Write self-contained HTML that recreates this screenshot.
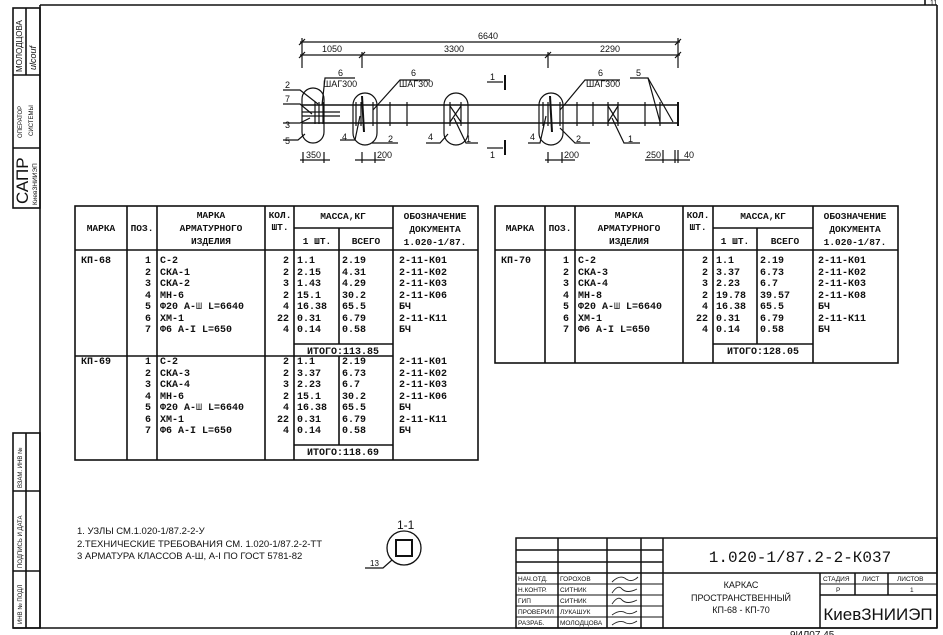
<!DOCTYPE html>
<html><head><meta charset="utf-8"><style>
html,body{margin:0;padding:0;background:#fff;}
svg{display:block;}
text{font-family:"Liberation Mono",monospace;fill:#111;}
.t text{font-weight:bold;}
.t tspan.n{font-weight:normal;}
.s{font-family:"Liberation Sans",sans-serif;}
</style></head><body>
<svg width="943" height="635" viewBox="0 0 943 635" xmlns="http://www.w3.org/2000/svg">
<g stroke="#111" fill="none" stroke-width="1.6">
<line x1="40" y1="5" x2="937" y2="5"/>
<line x1="40" y1="5" x2="40" y2="628"/>
<line x1="937" y1="5" x2="937" y2="628"/>
<line x1="13" y1="628" x2="937" y2="628"/>
<line x1="925" y1="0" x2="925" y2="5"/>
<rect x="13" y="8" width="27" height="200"/>
<line x1="13" y1="75" x2="40" y2="75"/>
<line x1="13" y1="148" x2="40" y2="148"/>
<line x1="26" y1="8" x2="26" y2="75"/>
<rect x="13" y="433" width="27" height="195"/>
<line x1="13" y1="491" x2="40" y2="491"/>
<line x1="13" y1="571" x2="40" y2="571"/>
<line x1="26" y1="433" x2="26" y2="628"/>
</g>
<g class="s" font-size="7">
<text class="s" transform="translate(22,72) rotate(-90)" font-size="8">МОЛОДЦОВА</text>
<text class="s" transform="translate(36,70) rotate(-90)" font-size="9" font-style="italic">ulcouf</text>
<text class="s" transform="translate(22,138) rotate(-90)" font-size="6">ОПЕРАТОР</text>
<text class="s" transform="translate(33,136) rotate(-90)" font-size="6">СИСТЕМЫ</text>
<text class="s" transform="translate(28,204) rotate(-90)" font-size="17">САПР</text>
<text class="s" transform="translate(37,205) rotate(-90)" font-size="6.5">КиевЗНИИЭП</text>
<text class="s" transform="translate(22,488) rotate(-90)" font-size="6">ВЗАМ. ИНВ №</text>
<text class="s" transform="translate(22,568) rotate(-90)" font-size="6">ПОДПИСЬ И ДАТА</text>
<text class="s" transform="translate(22,624) rotate(-90)" font-size="6">ИНВ № ПОДЛ</text>
</g>

<g stroke="#111" fill="none" stroke-width="1.2">
<line x1="300" y1="42" x2="680" y2="42"/>
<line x1="300" y1="55" x2="680" y2="55"/>
<line x1="302" y1="38" x2="302" y2="68"/>
<line x1="678" y1="38" x2="678" y2="68"/>
<line x1="362" y1="52" x2="362" y2="68"/>
<line x1="548" y1="52" x2="548" y2="68"/>
<line x1="299" y1="45" x2="305" y2="39"/><line x1="675" y1="45" x2="681" y2="39"/>
<line x1="299" y1="58" x2="305" y2="52"/><line x1="359" y1="58" x2="365" y2="52"/>
<line x1="545" y1="58" x2="551" y2="52"/><line x1="675" y1="58" x2="681" y2="52"/>
<line x1="302" y1="105" x2="678" y2="105" stroke-width="1.6"/>
<line x1="302" y1="123" x2="678" y2="123" stroke-width="1.6"/>
<line x1="678" y1="102" x2="678" y2="126" stroke-width="2"/>
<line x1="302" y1="112" x2="340" y2="112"/>
<line x1="302" y1="116" x2="340" y2="116"/>
<line x1="315" y1="102" x2="315" y2="124"/><line x1="319" y1="102" x2="319" y2="124"/><line x1="323" y1="102" x2="323" y2="124"/>
<line x1="356" y1="102" x2="356" y2="126"/><line x1="361" y1="102" x2="361" y2="126"/><line x1="373" y1="102" x2="373" y2="126"/>
<line x1="390" y1="102" x2="390" y2="126"/><line x1="407" y1="102" x2="407" y2="126"/>
<line x1="450" y1="102" x2="450" y2="126"/><line x1="461" y1="102" x2="461" y2="126"/>
<line x1="450" y1="106" x2="461" y2="122"/><line x1="461" y1="106" x2="450" y2="122"/>
<line x1="543" y1="102" x2="543" y2="126"/><line x1="548" y1="102" x2="548" y2="126"/><line x1="560" y1="102" x2="560" y2="126"/>
<line x1="577" y1="102" x2="577" y2="126"/><line x1="593" y1="102" x2="593" y2="126"/>
<line x1="608" y1="102" x2="608" y2="126"/><line x1="618" y1="102" x2="618" y2="126"/>
<line x1="608" y1="106" x2="618" y2="122"/><line x1="618" y1="106" x2="608" y2="122"/>
<line x1="645" y1="102" x2="645" y2="126"/><line x1="660" y1="102" x2="660" y2="126"/>
<line x1="362" y1="96" x2="364" y2="132" stroke-width="2"/><line x1="550" y1="96" x2="552" y2="132" stroke-width="2"/>
<rect x="302" y="88" width="22" height="55" rx="11"/>
<rect x="353" y="93" width="24" height="52" rx="12"/>
<rect x="444" y="93" width="24" height="52" rx="12"/>
<rect x="539" y="93" width="24" height="52" rx="12"/>
<polyline points="322,105 325,78 355,78"/>
<polyline points="373,110 400,80 430,80"/>
<polyline points="560,110 585,80 620,80"/>
<polyline points="283,90 300,90 318,104"/>
<polyline points="283,104 300,104 312,114"/>
<polyline points="283,123 300,123 310,118"/>
<polyline points="283,140 298,140 305,134"/>
<polyline points="340,140 355,140 360,116"/>
<polyline points="372,143 378,143 398,143"/>
<polyline points="426,143 440,143 448,134"/>
<polyline points="454,118 466,143 478,143"/>
<polyline points="528,143 540,143 546,116"/>
<polyline points="560,128 575,143 590,143"/>
<polyline points="612,118 624,143 640,143"/>
<polyline points="630,78 648,78 660,122"/><line x1="648" y1="78" x2="673" y2="122"/>
<line x1="505" y1="75" x2="505" y2="90" stroke-width="2"/>
<line x1="487" y1="82" x2="503" y2="82"/>
<line x1="505" y1="140" x2="505" y2="155" stroke-width="2"/>
<line x1="487" y1="148" x2="503" y2="148"/>
<line x1="300" y1="160" x2="330" y2="160"/><line x1="303" y1="152" x2="303" y2="163"/><line x1="324" y1="152" x2="324" y2="163"/>
<line x1="355" y1="160" x2="385" y2="160"/><line x1="362" y1="152" x2="362" y2="163"/><line x1="375" y1="152" x2="375" y2="163"/>
<line x1="545" y1="160" x2="575" y2="160"/><line x1="548" y1="152" x2="548" y2="163"/><line x1="562" y1="152" x2="562" y2="163"/>
<line x1="645" y1="160" x2="690" y2="160"/><line x1="663" y1="150" x2="663" y2="163"/><line x1="675" y1="150" x2="675" y2="163"/><line x1="678" y1="150" x2="678" y2="163"/>
</g>
<g class="s" font-size="9">
<text class="s" x="478" y="39" font-size="9">6640</text>
<text class="s" x="322" y="52">1050</text>
<text class="s" x="444" y="52">3300</text>
<text class="s" x="600" y="52">2290</text>
<text class="s" x="338" y="76">6</text><text class="s" x="323" y="87">ШАГ300</text>
<text class="s" x="411" y="76">6</text><text class="s" x="399" y="87">ШАГ300</text>
<text class="s" x="598" y="76">6</text><text class="s" x="586" y="87">ШАГ300</text>
<text class="s" x="636" y="76">5</text>
<text class="s" x="285" y="88">2</text><text class="s" x="285" y="102">7</text>
<text class="s" x="285" y="128">3</text><text class="s" x="285" y="144">5</text>
<text class="s" x="342" y="140">4</text><text class="s" x="388" y="142">2</text>
<text class="s" x="428" y="140">4</text><text class="s" x="466" y="142">1</text>
<text class="s" x="530" y="140">4</text><text class="s" x="576" y="142">2</text>
<text class="s" x="628" y="142">1</text>
<text class="s" x="490" y="80">1</text><text class="s" x="490" y="158">1</text>
<text class="s" x="306" y="158">350</text>
<text class="s" x="377" y="158">200</text>
<text class="s" x="564" y="158">200</text>
<text class="s" x="646" y="158">250</text>
<text class="s" x="684" y="158">40</text>
</g>

<g stroke="#111" fill="none" stroke-width="1.6">
<rect x="75" y="206" width="403" height="254"/>
<line x1="127" y1="206" x2="127" y2="460"/>
<line x1="157" y1="206" x2="157" y2="460"/>
<line x1="265" y1="206" x2="265" y2="460"/>
<line x1="294" y1="206" x2="294" y2="460"/>
<line x1="393" y1="206" x2="393" y2="460"/>
<line x1="294" y1="228" x2="393" y2="228"/>
<line x1="339" y1="228" x2="339" y2="344"/>
<line x1="339" y1="356" x2="339" y2="445"/>
<line x1="75" y1="250" x2="478" y2="250"/>
<line x1="294" y1="344" x2="393" y2="344"/>
<line x1="75" y1="356" x2="393" y2="356"/>
<line x1="294" y1="445" x2="393" y2="445"/>
</g>
<g stroke="#111" fill="none" stroke-width="1.6">
<rect x="495" y="206" width="403" height="157"/>
<line x1="545" y1="206" x2="545" y2="363"/>
<line x1="575" y1="206" x2="575" y2="363"/>
<line x1="683" y1="206" x2="683" y2="363"/>
<line x1="713" y1="206" x2="713" y2="363"/>
<line x1="813" y1="206" x2="813" y2="363"/>
<line x1="713" y1="228" x2="813" y2="228"/>
<line x1="757" y1="228" x2="757" y2="344"/>
<line x1="495" y1="250" x2="898" y2="250"/>
<line x1="713" y1="344" x2="813" y2="344"/>
</g>
<g class="t" font-size="9.5">
<text x="101" y="231" text-anchor="middle">МАРКА</text>
<text x="142" y="231" text-anchor="middle">ПОЗ.</text>
<text x="211" y="218" text-anchor="middle">МАРКА</text>
<text x="211" y="231" text-anchor="middle">АРМАТУРНОГО</text>
<text x="211" y="244" text-anchor="middle">ИЗДЕЛИЯ</text>
<text x="280" y="218" text-anchor="middle">КОЛ.</text>
<text x="280" y="230" text-anchor="middle">ШТ.</text>
<text x="343" y="219" text-anchor="middle">МАССА,КГ</text>
<text x="317" y="244" text-anchor="middle">1 ШТ.</text>
<text x="366" y="244" text-anchor="middle">ВСЕГО</text>
<text x="435" y="219" text-anchor="middle">ОБОЗНАЧЕНИЕ</text>
<text x="435" y="232" text-anchor="middle">ДОКУМЕНТА</text>
<text x="435" y="245" text-anchor="middle">1.020-1/87.</text>
<text x="520" y="231" text-anchor="middle">МАРКА</text>
<text x="560" y="231" text-anchor="middle">ПОЗ.</text>
<text x="629" y="218" text-anchor="middle">МАРКА</text>
<text x="629" y="231" text-anchor="middle">АРМАТУРНОГО</text>
<text x="629" y="244" text-anchor="middle">ИЗДЕЛИЯ</text>
<text x="698" y="218" text-anchor="middle">КОЛ.</text>
<text x="698" y="230" text-anchor="middle">ШТ.</text>
<text x="763" y="219" text-anchor="middle">МАССА,КГ</text>
<text x="735" y="244" text-anchor="middle">1 ШТ.</text>
<text x="785" y="244" text-anchor="middle">ВСЕГО</text>
<text x="855" y="219" text-anchor="middle">ОБОЗНАЧЕНИЕ</text>
<text x="855" y="232" text-anchor="middle">ДОКУМЕНТА</text>
<text x="855" y="245" text-anchor="middle">1.020-1/87.</text>
</g>
<g class="t" font-size="10">
<text x="81" y="263">КП-68</text>
<text x="81" y="364">КП-69</text>
<text x="501" y="263">КП-70</text>
<text x="145" y="263">1</text><text x="145" y="275">2</text><text x="145" y="286">3</text><text x="145" y="298">4</text><text x="145" y="309">5</text><text x="145" y="321">6</text><text x="145" y="332">7</text>
<text x="145" y="364">1</text><text x="145" y="376">2</text><text x="145" y="387">3</text><text x="145" y="399">4</text><text x="145" y="410">5</text><text x="145" y="422">6</text><text x="145" y="433">7</text>
<text x="563" y="263">1</text><text x="563" y="275">2</text><text x="563" y="286">3</text><text x="563" y="298">4</text><text x="563" y="309">5</text><text x="563" y="321">6</text><text x="563" y="332">7</text>

<text x="160" y="263">С-2</text><text x="160" y="275">СКА-1</text><text x="160" y="286">СКА-2</text><text x="160" y="298">МН-6</text><text x="160" y="309">Φ20 А-<tspan class="n">Ш</tspan> L=6640</text><text x="160" y="321">ХМ-1</text><text x="160" y="332">Φ6 А-I L=650</text>
<text x="160" y="364">С-2</text><text x="160" y="376">СКА-3</text><text x="160" y="387">СКА-4</text><text x="160" y="399">МН-6</text><text x="160" y="410">Φ20 А-<tspan class="n">Ш</tspan> L=6640</text><text x="160" y="422">ХМ-1</text><text x="160" y="433">Φ6 А-I L=650</text>
<text x="578" y="263">С-2</text><text x="578" y="275">СКА-3</text><text x="578" y="286">СКА-4</text><text x="578" y="298">МН-8</text><text x="578" y="309">Φ20 А-<tspan class="n">Ш</tspan> L=6640</text><text x="578" y="321">ХМ-1</text><text x="578" y="332">Φ6 А-I L=650</text>

<g text-anchor="end">
<text x="289" y="263">2</text><text x="289" y="275">2</text><text x="289" y="286">3</text><text x="289" y="298">2</text><text x="289" y="309">4</text><text x="289" y="321">22</text><text x="289" y="332">4</text>
<text x="289" y="364">2</text><text x="289" y="376">2</text><text x="289" y="387">3</text><text x="289" y="399">2</text><text x="289" y="410">4</text><text x="289" y="422">22</text><text x="289" y="433">4</text>
<text x="708" y="263">2</text><text x="708" y="275">2</text><text x="708" y="286">3</text><text x="708" y="298">2</text><text x="708" y="309">4</text><text x="708" y="321">22</text><text x="708" y="332">4</text>
</g>
<text x="297" y="263">1.1</text><text x="297" y="275">2.15</text><text x="297" y="286">1.43</text><text x="297" y="298">15.1</text><text x="297" y="309">16.38</text><text x="297" y="321">0.31</text><text x="297" y="332">0.14</text>
<text x="342" y="263">2.19</text><text x="342" y="275">4.31</text><text x="342" y="286">4.29</text><text x="342" y="298">30.2</text><text x="342" y="309">65.5</text><text x="342" y="321">6.79</text><text x="342" y="332">0.58</text>
<text x="297" y="364">1.1</text><text x="297" y="376">3.37</text><text x="297" y="387">2.23</text><text x="297" y="399">15.1</text><text x="297" y="410">16.38</text><text x="297" y="422">0.31</text><text x="297" y="433">0.14</text>
<text x="342" y="364">2.19</text><text x="342" y="376">6.73</text><text x="342" y="387">6.7</text><text x="342" y="399">30.2</text><text x="342" y="410">65.5</text><text x="342" y="422">6.79</text><text x="342" y="433">0.58</text>
<text x="716" y="263">1.1</text><text x="716" y="275">3.37</text><text x="716" y="286">2.23</text><text x="716" y="298">19.78</text><text x="716" y="309">16.38</text><text x="716" y="321">0.31</text><text x="716" y="332">0.14</text>
<text x="760" y="263">2.19</text><text x="760" y="275">6.73</text><text x="760" y="286">6.7</text><text x="760" y="298">39.57</text><text x="760" y="309">65.5</text><text x="760" y="321">6.79</text><text x="760" y="332">0.58</text>
<text x="343" y="354" text-anchor="middle">ИТОГО:113.85</text>
<text x="343" y="455" text-anchor="middle">ИТОГО:118.69</text>
<text x="763" y="354" text-anchor="middle">ИТОГО:128.05</text>
<text x="399" y="263">2-11-К01</text><text x="399" y="275">2-11-К02</text><text x="399" y="286">2-11-К03</text><text x="399" y="298">2-11-К06</text><text x="399" y="309">БЧ</text><text x="399" y="321">2-11-К11</text><text x="399" y="332">БЧ</text>
<text x="399" y="364">2-11-К01</text><text x="399" y="376">2-11-К02</text><text x="399" y="387">2-11-К03</text><text x="399" y="399">2-11-К06</text><text x="399" y="410">БЧ</text><text x="399" y="422">2-11-К11</text><text x="399" y="433">БЧ</text>
<text x="818" y="263">2-11-К01</text><text x="818" y="275">2-11-К02</text><text x="818" y="286">2-11-К03</text><text x="818" y="298">2-11-К08</text><text x="818" y="309">БЧ</text><text x="818" y="321">2-11-К11</text><text x="818" y="332">БЧ</text>
</g>

<g class="s" font-size="9.5">
<text class="s" x="77" y="534">1. УЗЛЫ СМ.1.020-1/87.2-2-У</text>
<text class="s" x="77" y="547">2.ТЕХНИЧЕСКИЕ ТРЕБОВАНИЯ СМ. 1.020-1/87.2-2-ТТ</text>
<text class="s" x="77" y="559">3 АРМАТУРА КЛАССОВ А-Ш, А-I ПО ГОСТ 5781-82</text>
</g>
<g stroke="#111" fill="none">
<circle cx="404" cy="548" r="17" stroke-width="1.3"/>
<rect x="396" y="540" width="16" height="16" stroke-width="2"/>
<polyline points="365,568 383,568 392,560" stroke-width="1.2"/>
</g>
<text class="s" x="397" y="529" font-size="12">1-1</text>
<text class="s" x="370" y="566" font-size="8">13</text>

<g stroke="#111" fill="none" stroke-width="1.5">
<rect x="516" y="538" width="421" height="90"/>
<line x1="516" y1="550" x2="663" y2="550"/>
<line x1="516" y1="562" x2="663" y2="562"/>
<line x1="516" y1="573" x2="937" y2="573"/>
<line x1="516" y1="584" x2="663" y2="584" stroke-width="1"/>
<line x1="516" y1="595" x2="663" y2="595" stroke-width="1"/>
<line x1="516" y1="606" x2="663" y2="606" stroke-width="1"/>
<line x1="516" y1="617" x2="663" y2="617" stroke-width="1"/>
<line x1="558" y1="538" x2="558" y2="628"/>
<line x1="607" y1="538" x2="607" y2="628"/>
<line x1="641" y1="538" x2="641" y2="628"/>
<line x1="663" y1="538" x2="663" y2="628"/>
<line x1="820" y1="573" x2="820" y2="628"/>
<line x1="820" y1="584" x2="937" y2="584" stroke-width="1"/>
<line x1="820" y1="595" x2="937" y2="595"/>
<line x1="855" y1="573" x2="855" y2="595"/>
<line x1="888" y1="573" x2="888" y2="595"/>
</g>
<g class="s" font-size="6.5">
<text class="s" x="518" y="581">НАЧ.ОТД.</text><text class="s" x="560" y="581">ГОРОХОВ</text>
<text class="s" x="518" y="592">Н.КОНТР.</text><text class="s" x="560" y="592">СИТНИК</text>
<text class="s" x="518" y="603">ГИП</text><text class="s" x="560" y="603">СИТНИК</text>
<text class="s" x="518" y="614">ПРОВЕРИЛ</text><text class="s" x="560" y="614">ЛУКАШУК</text>
<text class="s" x="518" y="625">РАЗРАБ.</text><text class="s" x="560" y="625">МОЛОДЦОВА</text>
<text class="s" x="823" y="581">СТАДИЯ</text><text class="s" x="862" y="581">ЛИСТ</text><text class="s" x="897" y="581">ЛИСТОВ</text>
<text class="s" x="836" y="592">Р</text><text class="s" x="910" y="592">1</text>
</g>
<g stroke="#222" fill="none" stroke-width="0.9">
<path d="M612 582 q8 -8 14 -3 q6 4 12 -2"/>
<path d="M612 593 q6 -9 10 -4 q5 5 15 0"/>
<path d="M612 604 q6 -9 10 -4 q5 5 15 0"/>
<path d="M612 615 q8 -6 14 -2 q5 2 11 -2"/>
<path d="M612 625 q8 -6 14 -2 q5 2 11 -2"/>
</g>
<text x="800" y="562" font-size="16" text-anchor="middle">1.020-1/87.2-2-К037</text>
<text class="s" x="741" y="588" font-size="9" text-anchor="middle">КАРКАС</text>
<text class="s" x="741" y="601" font-size="9" text-anchor="middle">ПРОСТРАНСТВЕННЫЙ</text>
<text class="s" x="741" y="613" font-size="9" text-anchor="middle">КП-68 - КП-70</text>
<text class="s" x="878" y="620" font-size="17" text-anchor="middle">КиевЗНИИЭП</text>
<text class="s" x="790" y="638" font-size="10">9ИЛ07 45</text>
<text class="s" x="928" y="5" font-size="7">.11</text>
</svg>
</body></html>
